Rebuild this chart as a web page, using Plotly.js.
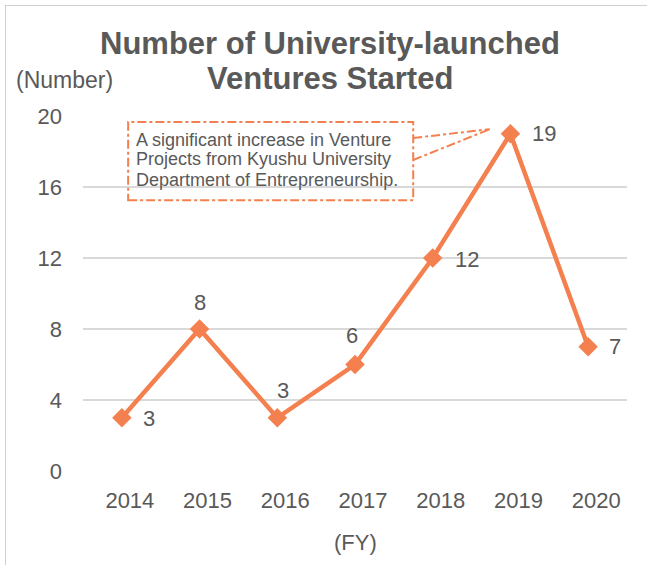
<!DOCTYPE html>
<html>
<head>
<meta charset="utf-8">
<script src="https://cdn.plot.ly/plotly-3.0.1.min.js"></script>
<style>
  html, body { margin: 0; padding: 0; background: #fff; }
  #wrap { position: relative; width: 647px; height: 565px; overflow: hidden; }
  #frame { position: absolute; left: 5px; top: 5px; width: 700px; height: 700px;
           border-left: 1.5px solid #d0d0d0; border-top: 1.5px solid #d0d0d0; pointer-events: none; }
  #chart { position: absolute; left: 0; top: 0; width: 647px; height: 565px; }
</style>
</head>
<body>
<div id="wrap">
  <div id="chart"></div>
  <div id="frame"></div>
</div>
<script>
const years = ['2014', '2015', '2016', '2017', '2018', '2019', '2020'];
const ventures = [3, 8, 3, 6, 12, 19, 7];
const yTicks = [0, 4, 8, 12, 16, 20];
const titleLines = ['Number of University-launched', 'Ventures Started'];
const noteLines = ['A significant increase in Venture', 'Projects from Kyushu University', 'Department of Entrepreneurship.'];

// data label placement (pixel offsets from each marker)
const labelDX = [27, 0, 6, -3, 34, 34, 27];
const labelDY = [-1, 27, 27, 29, -1, 0, 0];

const orange = '#F4804F';
const grey = '#595959';
const font = 'Liberation Sans, Arial, sans-serif';

const trace = {
  x: years,
  y: ventures,
  type: 'scatter',
  mode: 'lines+markers',
  line: { color: orange, width: 4.5 },
  marker: { symbol: 'diamond', size: 15, color: orange },
  cliponaxis: false,
  hoverinfo: 'skip'
};

const annotations = [];
// data labels (x given as category index on the category axis)
years.forEach((yr, i) => annotations.push({
  text: String(ventures[i]), x: i, y: ventures[i], xref: 'x', yref: 'y',
  xshift: labelDX[i], yshift: labelDY[i], xanchor: 'center', yanchor: 'middle',
  showarrow: false, font: { family: font, size: 22, color: grey }
}));
// title, two lines
const titleY = [1.2056, 1.107];
titleLines.forEach((t, i) => annotations.push({
  text: '<b>' + t + '</b>', xref: 'paper', yref: 'paper', x: 0.454, y: titleY[i],
  xanchor: 'center', yanchor: 'middle', showarrow: false,
  font: { family: font, size: 31, color: grey }
}));
// note text, three lines
const noteY = [0.9326, 0.8790, 0.8198];
noteLines.forEach((t, i) => annotations.push({
  text: t, xref: 'paper', yref: 'paper', x: 0.094, y: noteY[i],
  xanchor: 'left', yanchor: 'middle', align: 'left', showarrow: false,
  font: { family: font, size: 18, color: grey }
}));
annotations.push({ text: '(Number)', xref: 'paper', yref: 'paper', x: -0.126, y: 1.101,
  xanchor: 'left', yanchor: 'middle', showarrow: false, font: { family: font, size: 23, color: grey } });
annotations.push({ text: '(FY)', xref: 'paper', yref: 'paper', x: 0.5, y: -0.2,
  xanchor: 'center', yanchor: 'middle', showarrow: false, font: { family: font, size: 22, color: grey } });

const dashLine = { color: orange, width: 2, dash: 'dashdot' };

const layout = {
  width: 647,
  height: 565,
  margin: { l: 83, r: 20, t: 116, b: 94 },
  paper_bgcolor: '#fff',
  plot_bgcolor: '#fff',
  showlegend: false,
  font: { family: font, color: grey },
  xaxis: {
    type: 'category',
    range: [-0.5, years.length - 0.5],
    showgrid: false,
    showline: false,
    zeroline: false,
    ticks: '',
    tickfont: { family: font, size: 22, color: grey },
    ticklabelstandoff: 14,
    ticklabelshift: 8,
    fixedrange: true
  },
  yaxis: {
    range: [0, 20],
    tickvals: yTicks,
    ticktext: yTicks.map(String),
    showgrid: true,
    gridcolor: '#d9d9d9',
    gridwidth: 1.5,
    zeroline: false,
    showline: false,
    ticks: '',
    tickfont: { family: font, size: 22, color: grey },
    ticklabelstandoff: 20,
    fixedrange: true
  },
  shapes: [
    { type: 'rect', xref: 'paper', yref: 'paper', x0: 0.083, x1: 0.607, y0: 0.763, y1: 0.983,
      line: dashLine, fillcolor: 'rgba(255,255,255,0)' },
    { type: 'line', xref: 'paper', yref: 'paper', x0: 0.607, y0: 0.938, x1: 0.748, y1: 0.963, line: dashLine },
    { type: 'line', xref: 'paper', yref: 'paper', x0: 0.607, y0: 0.876, x1: 0.748, y1: 0.963, line: dashLine }
  ],
  annotations: annotations
};

Plotly.newPlot('chart', [trace], layout, { displayModeBar: false, staticPlot: true });
</script>
</body>
</html>
